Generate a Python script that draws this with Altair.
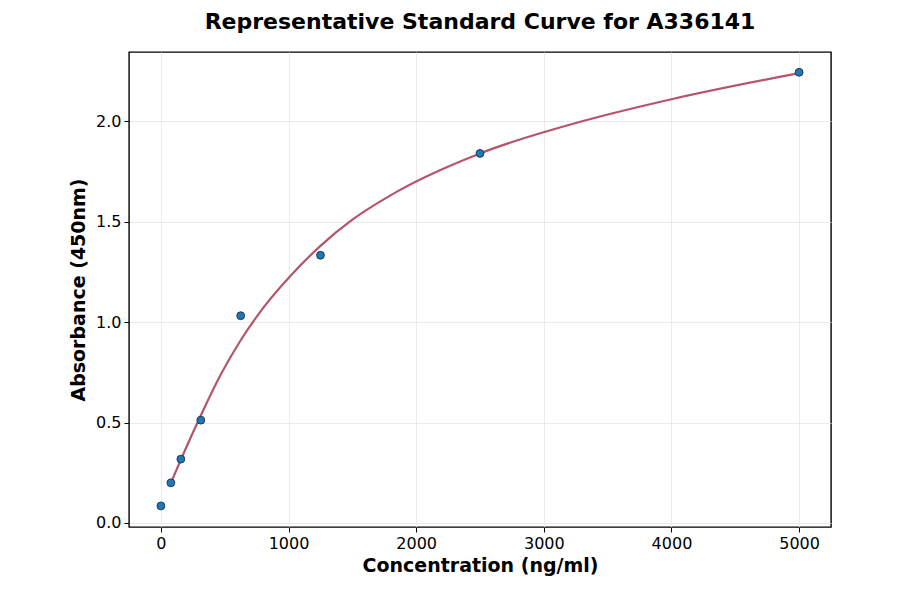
import altair as alt
import pandas as pd

# Measured standards
conc = [0, 78.125, 156.25, 312.5, 625, 1250, 2500, 5000]
absorb = [0.085, 0.200, 0.318, 0.512, 1.032, 1.333, 1.840, 2.244]

# Fitted curve
curve_x = [78.125, 156.25, 312.5, 470, 625, 800, 1000, 1250, 1500, 1850,
           2500, 3300, 4000, 5000]
curve_y = [0.20, 0.315, 0.535, 0.74, 0.91, 1.07, 1.22, 1.38, 1.51, 1.65,
           1.84, 2.00, 2.11, 2.24]

x_ticks = [0, 1000, 2000, 3000, 4000, 5000]
y_ticks = [0.0, 0.5, 1.0, 1.5, 2.0]

pts = pd.DataFrame({"x": conc, "y": absorb})
crv = pd.DataFrame({"x": curve_x, "y": curve_y})

FONT = "DejaVu Sans"

xs = alt.Scale(domain=[-250, 5250], nice=False, zero=False)
ys = alt.Scale(domain=[-0.02, 2.345], nice=False, zero=False)

common = dict(grid=True, gridColor="#e6e6e6", gridWidth=0.8,
              labelFont=FONT, labelFontSize=16, labelColor="black",
              titleFont=FONT, titleFontSize=19, titleFontWeight="bold", titleColor="black",
              tickColor="black", tickSize=5, tickWidth=1, domain=False, labelPadding=3)
xaxis = alt.Axis(values=x_ticks, format="d", title="Concentration (ng/ml)",
                 titlePadding=5, **common)
yaxis = alt.Axis(values=y_ticks, format=".1f", title="Absorbance (450nm)",
                 titlePadding=7, **common)

line = alt.Chart(crv).mark_line(color="#b5546a", strokeWidth=2.2, interpolate="monotone").encode(
    x=alt.X("x:Q", scale=xs, axis=xaxis),
    y=alt.Y("y:Q", scale=ys, axis=yaxis),
)
points = alt.Chart(pts).mark_point(filled=True, size=62, color="#1f77b4", stroke="#1c2f4f",
                                   strokeWidth=0.9, opacity=1, shape="circle").encode(
    x=alt.X("x:Q", scale=xs),
    y=alt.Y("y:Q", scale=ys),
)

chart = alt.layer(line, points).properties(
    width=702, height=475,
    background="white",
    title=alt.TitleParams("Representative Standard Curve for A336141", font=FONT,
                          fontSize=22, fontWeight="bold", color="black", offset=18),
    autosize=alt.AutoSizeParams(type="none"),
    padding={"left": 121, "top": 44, "right": 60, "bottom": 59},
).configure_view(stroke="black", strokeWidth=1.4)

chart.save("out.html", embed_options={"renderer": "svg", "actions": False})
